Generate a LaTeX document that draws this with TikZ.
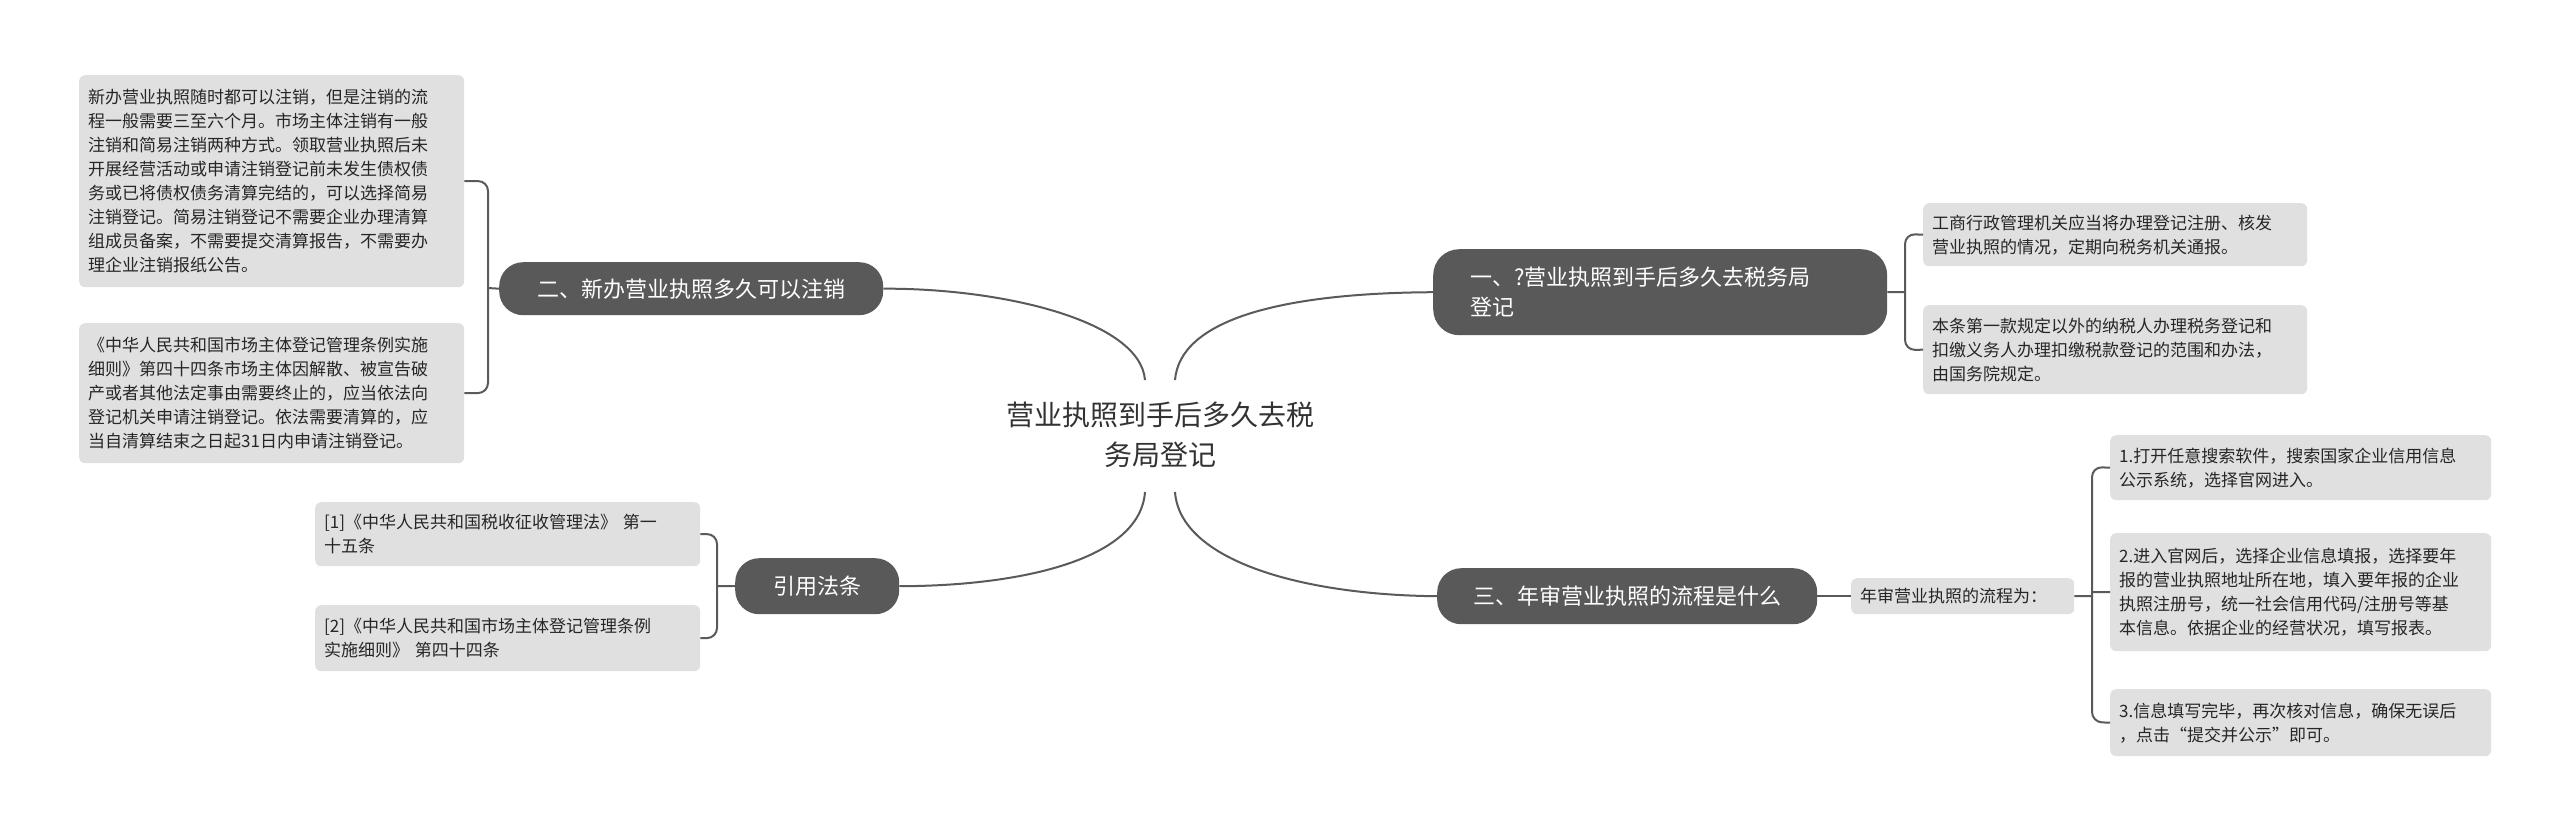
\documentclass[tikz,border=0pt]{standalone}
\usepackage{fontspec}
\setmainfont{Noto Sans CJK SC}
\begin{document}
\begin{tikzpicture}[x=1pt,y=-1pt,
  leaf/.style={fill=boxg,rounded corners=6pt,anchor=north west,align=left,inner xsep=9pt,inner ysep=4pt,font=\fontsize{17}{24}\selectfont,text=black!85},
  branch/.style={fill=brg,rounded corners=26pt,anchor=north west,text=white,font=\fontsize{22}{30}\selectfont},
  conn/.style={draw=lineg,line width=2pt},
  br/.style={draw=lineg,line width=2pt,rounded corners=10pt}]
\definecolor{boxg}{HTML}{E0E0E0}
\definecolor{brg}{HTML}{595959}
\definecolor{lineg}{HTML}{5A5A5A}
\fill[white] (0,0) rectangle (2560,833);
\useasboundingbox (0,0) rectangle (2560,833);
% center
\node[font=\fontsize{28}{40}\selectfont,align=center,text=black!80] (c) at (1160,435) {营业执照到手后多久去税\\务局登记};
\coordinate (c1) at (1145,380); \coordinate (c2) at (1175,380);
\coordinate (c3) at (1145,492); \coordinate (c4) at (1175,492);
% branches
\node[branch,minimum width=454,minimum height=86,text width=380,align=left,inner xsep=37] (b1) at (1433,249) {一、?营业执照到手后多久去税务局\\登记};
\node[branch,minimum width=384,minimum height=53,rounded corners=24pt,align=center] (b2) at (499,262) {二、新办营业执照多久可以注销};
\node[branch,minimum width=380,minimum height=56,rounded corners=24pt,align=center] (b3) at (1437,568) {三、年审营业执照的流程是什么};
\node[branch,minimum width=164,minimum height=56,rounded corners=24pt,align=center] (b4) at (735,558) {引用法条};
% leaves
\node[leaf,minimum width=384,minimum height=63,text width=366] (r1) at (1923,203) {工商行政管理机关应当将办理登记注册、核发\\营业执照的情况，定期向税务机关通报。};
\node[leaf,minimum width=384,minimum height=89,text width=366] (r2) at (1923,305) {本条第一款规定以外的纳税人办理税务登记和\\扣缴义务人办理扣缴税款登记的范围和办法，\\由国务院规定。};
\node[leaf,minimum width=223,minimum height=36,text width=205] (m) at (1851,578) {年审营业执照的流程为：};
\node[leaf,minimum width=381,minimum height=65,text width=363] (s1) at (2110,435) {1.打开任意搜索软件，搜索国家企业信用信息\\公示系统，选择官网进入。};
\node[leaf,minimum width=381,minimum height=118,text width=363] (s2) at (2110,533) {2.进入官网后，选择企业信息填报，选择要年\\报的营业执照地址所在地，填入要年报的企业\\执照注册号，统一社会信用代码/注册号等基\\本信息。依据企业的经营状况，填写报表。};
\node[leaf,minimum width=381,minimum height=67,text width=363] (s3) at (2110,689) {3.信息填写完毕，再次核对信息，确保无误后\\，点击“提交并公示”即可。};
\node[leaf,minimum width=385,minimum height=212,text width=367] (l1) at (79,75) {新办营业执照随时都可以注销，但是注销的流\\程一般需要三至六个月。市场主体注销有一般\\注销和简易注销两种方式。领取营业执照后未\\开展经营活动或申请注销登记前未发生债权债\\务或已将债权债务清算完结的，可以选择简易\\注销登记。简易注销登记不需要企业办理清算\\组成员备案，不需要提交清算报告，不需要办\\理企业注销报纸公告。};
\node[leaf,minimum width=385,minimum height=140,text width=367] (l2) at (79,323) {《中华人民共和国市场主体登记管理条例实施\\细则》第四十四条市场主体因解散、被宣告破\\产或者其他法定事由需要终止的，应当依法向\\登记机关申请注销登记。依法需要清算的，应\\当自清算结束之日起31日内申请注销登记。};
\node[leaf,minimum width=385,minimum height=64,text width=367] (f1) at (315,502) {[1]《中华人民共和国税收征收管理法》 第一\\十五条};
\node[leaf,minimum width=385,minimum height=66,text width=367] (f2) at (315,605) {[2]《中华人民共和国市场主体登记管理条例\\实施细则》 第四十四条};
% center connectors
\draw[conn] (c2) .. controls (1180,320) and (1280,293) .. (b1.west);
\draw[conn] (c1) .. controls (1140,320) and (1000,288) .. (b2.east);
\draw[conn] (c4) .. controls (1180,560) and (1300,595) .. (b3.west);
\draw[conn] (c3) .. controls (1140,560) and (1020,586) .. (b4.east);
% brackets
\draw[conn] (b1.east) -- (1905,292);
\draw[br] (r1.west) -- (1905,234) -- (1905,350) -- (r2.west);
\draw[conn] (b2.west) -- (488,288);
\draw[br] (l1.east) -- (488,181) -- (488,393) -- (l2.east);
\draw[conn] (b3.east) -- (m.west);
\draw[conn] (m.east) -- (2092,596);
\draw[br] (s1.west) -- (2092,467) -- (2092,722) -- (s3.west);
\draw[conn] (2092,592) -- (s2.west);
\draw[conn] (b4.west) -- (717,586);
\draw[br] (f1.east) -- (717,534) -- (717,638) -- (f2.east);
\end{tikzpicture}
\end{document}
